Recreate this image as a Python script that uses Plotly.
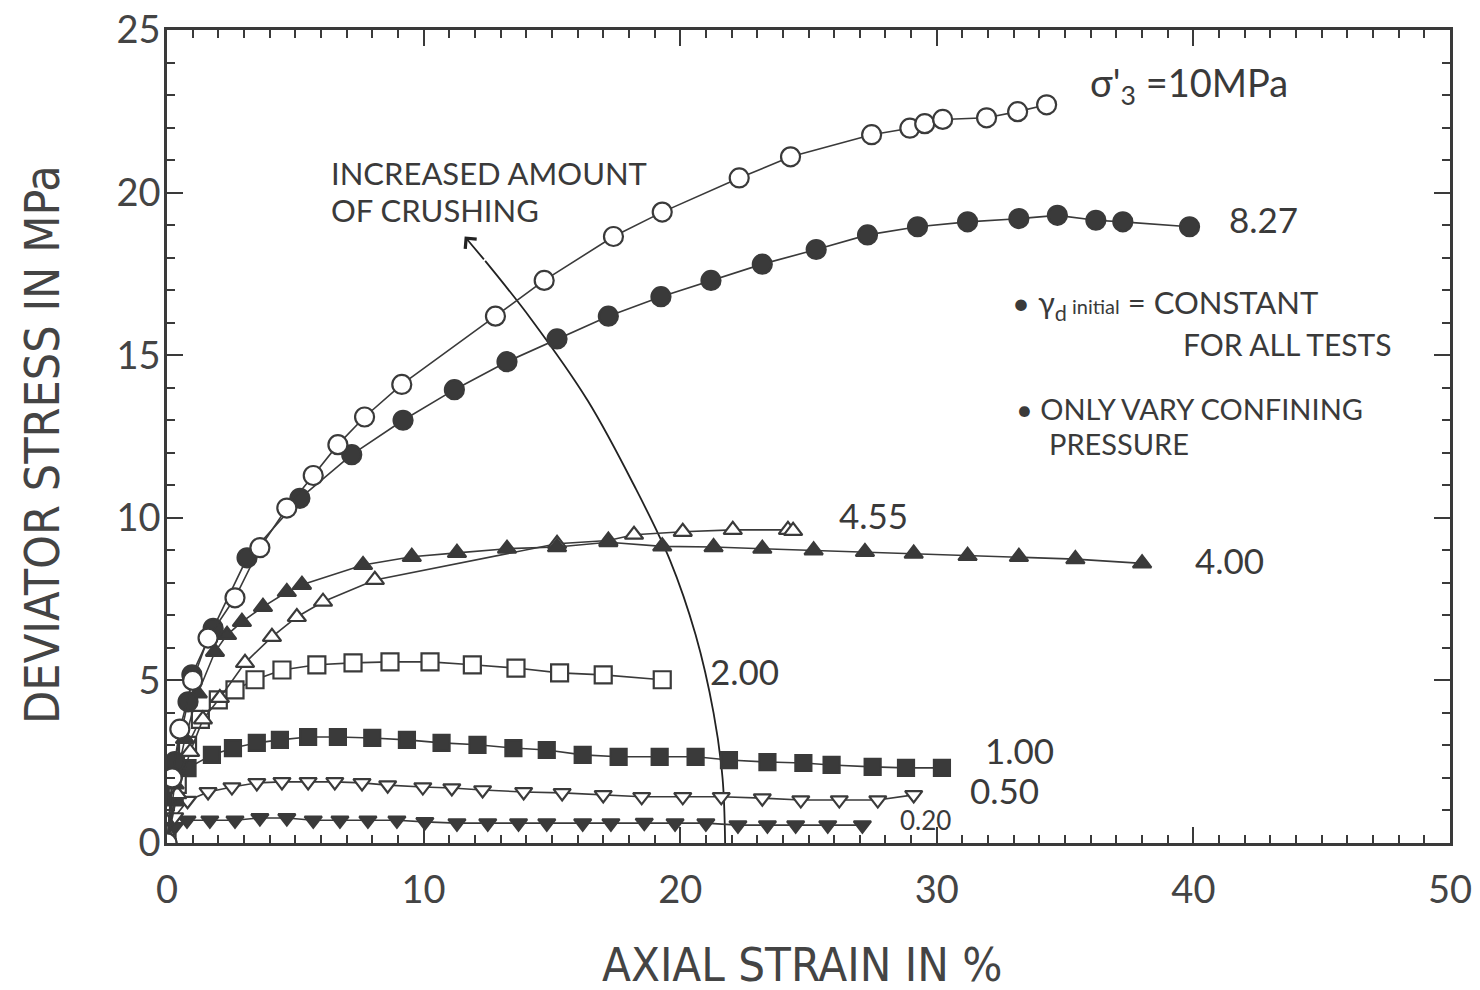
import plotly.graph_objects as go

# ---- data (axial strain %, deviator stress MPa) ----
s10_x = [0, 0.2, 0.5, 1.0, 1.6, 2.65, 3.62, 4.67, 5.7, 6.66, 7.7, 9.15, 12.8, 14.7, 17.4, 19.3, 22.3, 24.3, 27.46, 28.95, 29.53, 30.23, 31.94, 33.15, 34.28]
s10_y = [0, 2.0, 3.5, 5.0, 6.3, 7.54, 9.08, 10.3, 11.3, 12.25, 13.1, 14.1, 16.2, 17.3, 18.65, 19.4, 20.45, 21.1, 21.78, 21.98, 22.12, 22.25, 22.3, 22.49, 22.7]

s827_x = [0, 0.3, 0.82, 0.97, 1.8, 3.12, 5.18, 7.2, 9.2, 11.2, 13.25, 15.2, 17.2, 19.25, 21.2, 23.2, 25.3, 27.3, 29.25, 31.2, 33.2, 34.7, 36.2, 37.25, 39.85]
s827_y = [0, 2.5, 4.34, 5.17, 6.6, 8.77, 10.6, 11.94, 13.0, 13.94, 14.8, 15.5, 16.2, 16.8, 17.3, 17.8, 18.25, 18.7, 18.95, 19.1, 19.2, 19.3, 19.15, 19.1, 18.95]

s455_x = [0, 0.4, 0.9, 1.4, 2.06, 3.04, 4.09, 5.06, 6.08, 8.1, 15.2, 17.2, 18.2, 20.1, 22.05, 24.2, 24.4]
s455_y = [0, 1.5, 2.8, 3.8, 4.46, 5.54, 6.34, 6.95, 7.42, 8.09, 9.2, 9.3, 9.48, 9.57, 9.63, 9.63, 9.6]

s400_x = [0, 0.3, 0.7, 1.2, 1.87, 2.34, 2.92, 3.74, 4.67, 5.26, 7.64, 9.54, 11.3, 13.25, 15.2, 17.2, 19.3, 21.3, 23.2, 25.2, 27.2, 29.1, 31.2, 33.2, 35.4, 38.0]
s400_y = [0, 1.8, 3.2, 4.6, 5.88, 6.4, 6.8, 7.26, 7.72, 7.94, 8.55, 8.8, 8.92, 9.05, 9.1, 9.25, 9.12, 9.1, 9.05, 9.0, 8.95, 8.9, 8.83, 8.8, 8.73, 8.6]

s200_x = [0, 0.4, 0.8, 1.3, 2.0, 2.65, 3.43, 4.48, 5.84, 7.25, 8.69, 10.25, 11.9, 13.6, 15.3, 17.0, 19.3]
s200_y = [0, 1.8, 3.0, 3.8, 4.4, 4.71, 5.02, 5.32, 5.48, 5.54, 5.57, 5.57, 5.48, 5.38, 5.23, 5.17, 5.02]

s100_x = [0, 0.3, 0.8, 1.75, 2.57, 3.5, 4.4, 5.5, 6.66, 8.0, 9.35, 10.7, 12.1, 13.5, 14.8, 16.2, 17.6, 19.2, 20.6, 21.9, 23.4, 24.8, 25.9, 27.5, 28.8, 30.2]
s100_y = [0, 1.4, 2.3, 2.71, 2.92, 3.08, 3.17, 3.26, 3.26, 3.23, 3.17, 3.08, 3.02, 2.92, 2.86, 2.71, 2.65, 2.65, 2.65, 2.55, 2.49, 2.46, 2.4, 2.34, 2.31, 2.31]

s050_x = [0, 0.3, 0.8, 1.6, 2.53, 3.5, 4.48, 5.5, 6.54, 7.6, 8.6, 9.97, 11.1, 12.3, 13.9, 15.4, 17.0, 18.5, 20.1, 21.6, 23.2, 24.7, 26.2, 27.7, 29.1]
s050_y = [0, 0.8, 1.3, 1.57, 1.72, 1.85, 1.88, 1.88, 1.88, 1.85, 1.78, 1.72, 1.69, 1.63, 1.57, 1.54, 1.48, 1.42, 1.42, 1.42, 1.38, 1.32, 1.32, 1.32, 1.48]

s020_x = [0, 0.3, 0.78, 1.67, 2.65, 3.62, 4.67, 5.7, 6.74, 7.83, 8.96, 10.05, 11.3, 12.5, 13.7, 14.8, 16.2, 17.3, 18.6, 19.8, 21.0, 22.25, 23.4, 24.5, 25.75, 27.1]
s020_y = [0, 0.5, 0.7, 0.7, 0.7, 0.77, 0.77, 0.7, 0.7, 0.7, 0.7, 0.65, 0.61, 0.61, 0.61, 0.61, 0.61, 0.61, 0.63, 0.61, 0.61, 0.55, 0.55, 0.55, 0.55, 0.55]

arrow_x = [21.75, 21.65, 21.3, 20.6, 19.6, 18.2, 16.4, 14.2, 12.4]
arrow_y = [0, 2.0, 4.0, 6.4, 8.7, 11.0, 13.6, 16.1, 17.9]

x_ticks = [0, 10, 20, 30, 40, 50]
y_ticks = [0, 5, 10, 15, 20, 25]

INK = "#3a3a3a"
FONT = "Lato"
TITLE_FONT = "DejaVu Sans Condensed, Liberation Sans Narrow, Roboto"

fig = go.Figure()

def add_series(xs, ys, symbol, filled, size):
    fig.add_trace(go.Scatter(
        x=xs, y=ys, mode="lines+markers",
        line=dict(color=INK, width=1.6),
        marker=dict(symbol=symbol, size=size,
                    color=INK if filled else "white",
                    line=dict(color=INK, width=2.2)),
        showlegend=False, hoverinfo="skip"))

# arrow curve (drawn first, beneath markers)
fig.add_trace(go.Scatter(x=arrow_x, y=arrow_y, mode="lines",
                         line=dict(color="#222", width=1.8, shape="spline"),
                         showlegend=False, hoverinfo="skip"))

add_series(s020_x, s020_y, "triangle-down", True, 15)
add_series(s050_x, s050_y, "triangle-down", False, 15)
add_series(s100_x, s100_y, "square", True, 16)
add_series(s200_x, s200_y, "square", False, 17)
add_series(s455_x, s455_y, "triangle-up", False, 16)
add_series(s400_x, s400_y, "triangle-up", True, 16)
add_series(s827_x, s827_y, "circle", True, 19)
add_series(s10_x, s10_y, "circle", False, 19)

# arrowhead
fig.add_annotation(x=11.6, y=18.65, ax=12.4, ay=17.9, xref="x", yref="y",
                   axref="x", ayref="y", showarrow=True, arrowhead=4,
                   arrowsize=1.6, arrowwidth=1.8, arrowcolor="#222", text="")

def label(x, y, text, size=34, xanchor="left"):
    fig.add_annotation(x=x, y=y, xref="x", yref="y", text=text, showarrow=False,
                       xanchor=xanchor, yanchor="middle",
                       font=dict(family=FONT, size=size, color=INK))

label(35.9, 23.3, "σ'<sub>3</sub> =10MPa", 38)
label(41.3, 19.2, "8.27", 35)
label(26.1, 10.1, "4.55", 35)
label(40.0, 8.7, "4.00", 35)
label(21.1, 5.3, "2.00", 35)
label(31.8, 2.85, "1.00", 35)
label(31.2, 1.63, "0.50", 35)
label(28.5, 0.7, "0.20", 26)
label(6.3, 20.6, "INCREASED AMOUNT", 31)
label(6.3, 19.45, "OF CRUSHING", 31)
label(32.85, 16.55, "• γ<sub>d</sub><span style='font-size:20px'> initial</span> = CONSTANT", 31)
label(39.5, 15.35, "FOR ALL TESTS", 30)
label(33.0, 13.35, "• ONLY VARY CONFINING", 29)
label(34.3, 12.3, "PRESSURE", 29)

axis_common = dict(
    showgrid=False, zeroline=False, showline=True, linecolor=INK, linewidth=2.5,
    mirror="ticks", ticks="inside", ticklen=16, tickwidth=2.2, tickcolor=INK,
    tickfont=dict(family=FONT, size=38, color="#444"), automargin=False,
    ticklabeloverflow="allow",
    minor=dict(ticks="inside", ticklen=8, tickwidth=1.8, tickcolor=INK, dtick=1, showgrid=False),
)

fig.update_xaxes(range=[0, 50], tickvals=x_ticks, ticktext=[str(v) for v in x_ticks],
                 ticklabelstandoff=12, **axis_common)
fig.update_yaxes(range=[0, 25], tickvals=y_ticks, ticktext=[str(v) for v in y_ticks],
                 ticklabelstandoff=-4, **axis_common)

# axis titles
fig.add_annotation(x=0.495, y=-0.15, xref="paper", yref="paper",
                   text="AXIAL STRAIN IN %", showarrow=False,
                   xanchor="center", yanchor="middle",
                   font=dict(family=TITLE_FONT, size=47, color="#444"))
fig.add_annotation(x=-0.098, y=0.49, xref="paper", yref="paper",
                   text="DEVIATOR STRESS IN MPa", showarrow=False, textangle=-90,
                   xanchor="center", yanchor="middle",
                   font=dict(family=TITLE_FONT, size=48, color="#444"))

# the page body adds an 8px margin; margins compensate so the plot box matches
fig.update_layout(
    width=1480, height=990,
    margin=dict(l=159, r=38, t=22, b=155),
    paper_bgcolor="white", plot_bgcolor="white",
)

fig.write_html("out.html")
